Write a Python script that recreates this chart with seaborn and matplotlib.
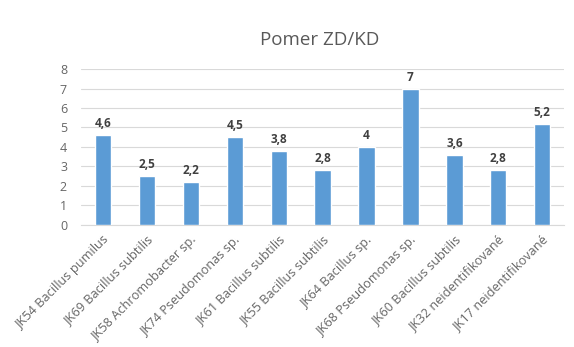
import matplotlib
matplotlib.use('Agg')
import matplotlib.pyplot as plt
import seaborn as sns
import pandas as pd

# data
strains = ['JK54 Bacillus pumilus', 'JK69 Bacillus subtilis', 'JK58 Achromobacter sp.',
           'JK74 Pseudomonas sp.', 'JK61 Bacillus subtilis', 'JK55 Bacillus subtilis',
           'JK64 Bacillus sp.', 'JK68 Pseudomonas sp.', 'JK60 Bacillus subtilis',
           'JK32 neidentifikované', 'JK17 neidentifikované']
ratio = [4.6, 2.5, 2.2, 4.5, 3.8, 2.8, 4.0, 7.0, 3.6, 2.8, 5.2]
yticks = [0, 1, 2, 3, 4, 5, 6, 7, 8]

df = pd.DataFrame({'kmen': strains, 'pomer': ratio})

sns.set_style('white')
plt.rcParams['font.family'] = ['Open Sans', 'DejaVu Sans']

fig = plt.figure(figsize=(5.74, 3.47), dpi=100)
ax = fig.add_axes([0.141, 0.352, 0.842, 0.449])

sns.barplot(data=df, x='kmen', y='pomer', color='#5B9BD5', saturation=1,
            width=0.37, ax=ax, zorder=3)

ax.set_ylim(0, 8)
ax.set_yticks(yticks)
ax.yaxis.grid(True, color='#D9D9D9', linewidth=0.8, zorder=0)
ax.set_axisbelow(True)
for s in ['top', 'right', 'left']:
    ax.spines[s].set_visible(False)
ax.spines['bottom'].set_color('#D9D9D9')
ax.set_xlabel('')
ax.set_ylabel('')
ax.tick_params(axis='y', length=0, colors='#666666', labelsize=9, pad=10)
ax.tick_params(axis='x', length=0, colors='#666666', labelsize=9.2, pad=6)
plt.setp(ax.get_xticklabels(), rotation=45, ha='right', rotation_mode='anchor')

# value labels with decimal comma
for i, v in enumerate(ratio):
    txt = ('%g' % v).replace('.', ',')
    ax.text(i, v + 0.25, txt, ha='center', va='bottom', fontsize=8.5,
            fontweight='bold', color='#404040')

fig.text(0.557, 0.885, 'Pomer ZD/KD', ha='center', va='center', fontsize=13.5,
         color='#595959')

fig.savefig('out.png', dpi=100, facecolor='white')
